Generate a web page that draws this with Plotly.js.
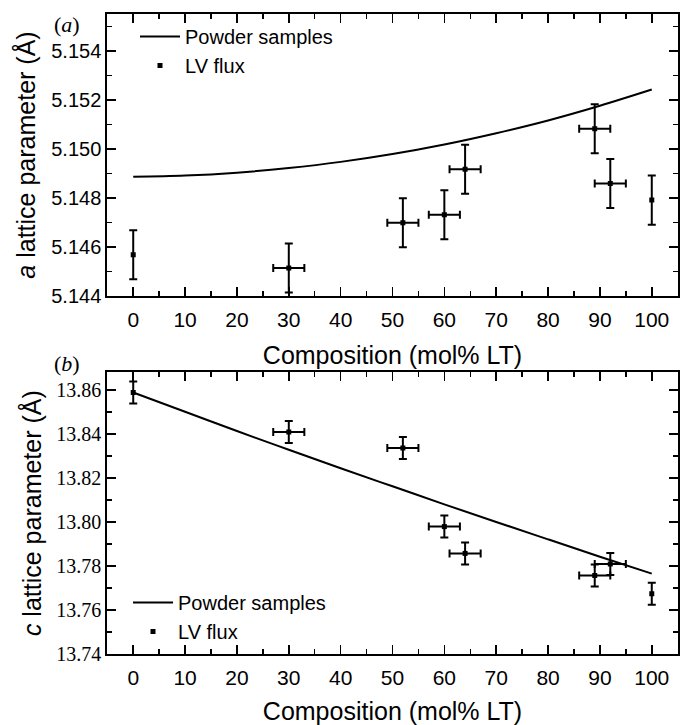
<!DOCTYPE html>
<html>
<head>
<meta charset="utf-8">
<script src="https://cdn.plot.ly/plotly-3.0.1.min.js"></script>
<style>
  html, body { margin: 0; padding: 0; background: #fff; }
  #chart { width: 680px; height: 725px; }
</style>
</head>
<body>
<div id="chart"></div>
<script>
// ---- Data ----
// LV flux crystals: composition (mol% LT)
const fluxComp = [0, 30, 52, 60, 64, 89, 92, 100];
const fluxCompErr = [NaN, 3, 3, 3, 3, 3, 3, NaN];
// a lattice parameter (Å)
const fluxA = [5.14568, 5.14514, 5.14699, 5.14731, 5.14917, 5.15082, 5.14859, 5.14791];
const fluxAErr = [0.001, 0.001, 0.001, 0.001, 0.001, 0.001, 0.001, 0.001];
// c lattice parameter (Å)
const fluxC = [13.8588, 13.8409, 13.8336, 13.7979, 13.7857, 13.7757, 13.7809, 13.7674];
const fluxCErr = [0.005, 0.005, 0.005, 0.005, 0.005, 0.005, 0.005, 0.005];

// Powder samples curves (read at 10 mol% steps)
const powderComp = [0, 10, 20, 30, 40, 50, 60, 70, 80, 90, 100];
const powderA = [5.14886, 5.14891, 5.14903, 5.14922, 5.14947, 5.14979, 5.15018, 5.15064, 5.15116, 5.15176, 5.15242];
const powderC = [13.8588, 13.8501, 13.8413, 13.8328, 13.8244, 13.8162, 13.8080, 13.8000, 13.7921, 13.7842, 13.7765];

// Tick values
const xTicks = [0, 10, 20, 30, 40, 50, 60, 70, 80, 90, 100];
const aTicks = [5.144, 5.146, 5.148, 5.150, 5.152, 5.154];
const cTicks = [13.74, 13.76, 13.78, 13.80, 13.82, 13.84, 13.86];

// ---- Styling ----
const W = 680, H = 725;
const SANS = 'Liberation Sans, Arial, sans-serif';
const SERIF = 'Liberation Serif, Times New Roman, serif';
const px = v => v / W;
const py = v => 1 - v / H;

const errY = (arr) => ({type: 'data', array: arr, visible: true, color: '#000', thickness: 2, width: 4});
const errX = (arr) => ({type: 'data', array: arr, visible: true, color: '#000', thickness: 2, width: 4});

const traces = [
  {x: powderComp, y: powderA, mode: 'lines', name: 'Powder samples', line: {color: '#000', width: 2, shape: 'spline'}, xaxis: 'x', yaxis: 'y', legend: 'legend'},
  {x: fluxComp, y: fluxA, mode: 'markers', name: 'LV flux', marker: {symbol: 'square', size: 5, color: '#000'},
   error_y: errY(fluxAErr), error_x: errX(fluxCompErr), xaxis: 'x', yaxis: 'y', legend: 'legend'},
  {x: powderComp, y: powderC, mode: 'lines', name: 'Powder samples', line: {color: '#000', width: 2, shape: 'spline'}, xaxis: 'x2', yaxis: 'y2', legend: 'legend2'},
  {x: fluxComp, y: fluxC, mode: 'markers', name: 'LV flux', marker: {symbol: 'square', size: 5, color: '#000'},
   error_y: errY(fluxCErr), error_x: errX(fluxCompErr), xaxis: 'x2', yaxis: 'y2', legend: 'legend2'}
];

const xCommon = {
  range: [-5, 105], tickvals: xTicks, ticktext: xTicks.map(String),
  ticks: 'inside', ticklen: 9, tickwidth: 1.5, tickcolor: '#000',
  minor: {dtick: 5, tick0: 0, ticks: 'inside', ticklen: 5, tickwidth: 1.5, tickcolor: '#000'},
  showline: true, linecolor: '#000', linewidth: 2, mirror: 'ticks',
  showgrid: false, zeroline: false,
  ticklabelstandoff: 4,
  tickfont: {family: SANS, size: 21, color: '#000'},
  title: {text: 'Composition (mol% LT)', font: {family: SANS, size: 25, color: '#000'}, standoff: 16}
};
const yCommon = {
  ticks: 'inside', ticklen: 9, tickwidth: 1.5, tickcolor: '#000',
  showline: true, linecolor: '#000', linewidth: 2, mirror: 'ticks',
  showgrid: false, zeroline: false
};

const layout = {
  width: W, height: H,
  margin: {l: 0, r: 0, t: 0, b: 0},
  paper_bgcolor: '#fff', plot_bgcolor: '#fff',
  showlegend: true,
  xaxis: Object.assign({}, xCommon, {domain: [px(107.3), px(677.7)], anchor: 'y'}),
  yaxis: Object.assign({}, yCommon, {
    domain: [py(296), py(14)], anchor: 'x',
    range: [5.144, 5.1555], tickvals: aTicks, tickformat: '.3f',
    minor: {dtick: 0.001, tick0: 5.144, ticks: 'inside', ticklen: 5, tickwidth: 1.5, tickcolor: '#000'},
    tickfont: {family: SANS, size: 20, color: '#000'},
    title: {text: '<i>a</i> lattice parameter (Å)', font: {family: SANS, size: 25, color: '#000'}, standoff: 8}
  }),
  xaxis2: Object.assign({}, xCommon, {domain: [px(107.3), px(677.7)], anchor: 'y2'}),
  yaxis2: Object.assign({}, yCommon, {
    domain: [py(654), py(372.3)], anchor: 'x2',
    range: [13.74, 13.868], tickvals: cTicks, tickformat: '.2f',
    minor: {dtick: 0.01, tick0: 13.74, ticks: 'inside', ticklen: 5, tickwidth: 1.5, tickcolor: '#000'},
    tickfont: {family: SERIF, size: 20, color: '#000'},
    title: {text: '<i>c</i> lattice parameter (Å)', font: {family: SANS, size: 25, color: '#000'}, standoff: 8}
  }),
  legend: {x: px(135), y: py(17), xanchor: 'left', yanchor: 'top', bgcolor: 'rgba(0,0,0,0)', borderwidth: 0,
           font: {family: SANS, size: 20, color: '#000'}, tracegroupgap: 0, itemwidth: 40},
  legend2: {x: px(128), y: py(583), xanchor: 'left', yanchor: 'top', bgcolor: 'rgba(0,0,0,0)', borderwidth: 0,
            font: {family: SANS, size: 20, color: '#000'}, tracegroupgap: 0, itemwidth: 40},
  annotations: [
    {text: '(<i>a</i>)', xref: 'paper', yref: 'paper', x: px(67), y: py(25), xanchor: 'center', yanchor: 'middle',
     showarrow: false, font: {family: SERIF, size: 22, color: '#000'}},
    {text: '(<i>b</i>)', xref: 'paper', yref: 'paper', x: px(67), y: py(364), xanchor: 'center', yanchor: 'middle',
     showarrow: false, font: {family: SERIF, size: 22, color: '#000'}}
  ]
};

Plotly.newPlot('chart', traces, layout, {displayModeBar: false, staticPlot: true});
</script>
</body>
</html>
